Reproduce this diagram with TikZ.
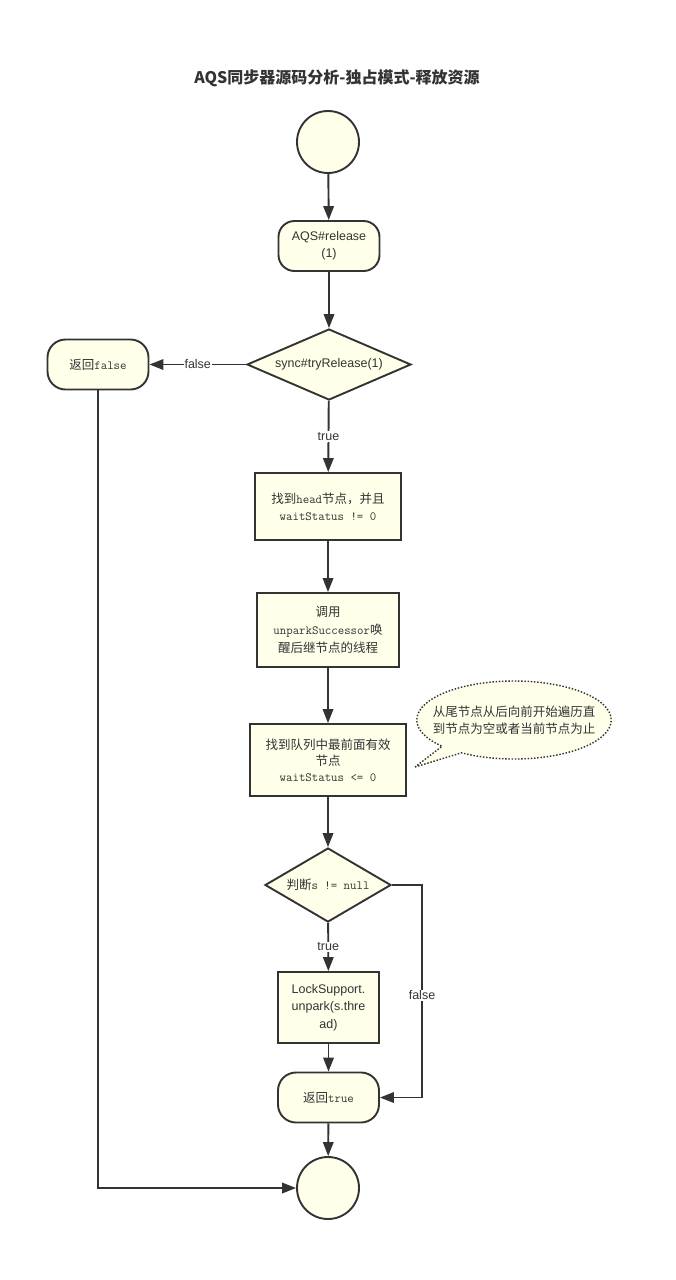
\documentclass[tikz,border=0pt]{standalone}
\usepackage{fontspec}
\setsansfont{Liberation Sans}
\newfontfamily\zh{Noto Sans CJK SC}
\usetikzlibrary{shapes.geometric,shapes.callouts,arrows.meta}
\definecolor{boxfill}{HTML}{FFFFEA}
\definecolor{ink}{HTML}{333333}
\begin{document}
\begin{tikzpicture}[
        x=1pt, y=-1pt,
        every node/.style={text=ink, font=\sffamily\fontsize{12.5}{17}\selectfont},
        base/.style={draw=ink, fill=boxfill, line width=1.9pt, align=center, inner sep=2pt},
        terminal/.style={base, circle, minimum size=62pt},
        stadium/.style={base, rectangle, rounded corners=16pt, minimum width=101pt, minimum height=50pt},
        process/.style={base, rectangle},
        decision/.style={base, diamond, inner sep=0pt},
        note/.style={ellipse callout, draw=ink, fill=boxfill, line width=1.4pt, dash pattern=on 1.5pt off 1.7pt,
            minimum height=78pt, inner xsep=-12.5pt, inner ysep=0pt, align=center,
            font=\zh\fontsize{12.5}{17}\selectfont},
        flow/.style={draw=ink, line width=1.9pt, -{Triangle[length=14pt,width=10.5pt]}},
        tag/.style={fill=white, inner sep=1pt},
    ]
    \useasboundingbox[fill=white] (0,0) rectangle (676,1280);
    \node[font=\zh\bfseries\fontsize{16}{19}\selectfont](title) at (337,78){AQS同步器源码分析-独占模式-释放资源};
    \node[terminal](start) at (328,142){};
    \node[stadium](release) at (329,246){AQS\#release\\(1)};
    \node[decision, aspect=2.3, minimum width=164pt, minimum height=71pt](check) at (329,364.5){sync\#tryRelease(1)};
    \node[stadium, rounded corners=18pt, font=\zh\fontsize{12.5}{17}\selectfont](retfalse) at (98,364.5){返回\texttt{false}};
    \node[process, minimum width=146pt, minimum height=67pt, font=\zh\fontsize{12.5}{17}\selectfont](findhead) at (328,506.5){找到\texttt{head}节点，并且\\\texttt{waitStatus != 0}};
    \node[process, minimum width=142pt, minimum height=74pt, font=\zh\fontsize{12.5}{18}\selectfont](unpark) at (328,630){调用\\\texttt{unparkSuccessor}唤\\醒后继节点的线程};
    \node[process, minimum width=156pt, minimum height=72pt, font=\zh\fontsize{12.5}{16}\selectfont](findvalid) at (328,760){找到队列中最前面有效\\节点\\\texttt{waitStatus <= 0}};
    \node[note, callout absolute pointer={(415,767)}](hint) at (514,720){从尾节点从后向前开始遍历直\\到节点为空或者当前节点为止};
    \node[decision, aspect=1.7, minimum width=126pt, minimum height=74pt, font=\zh\fontsize{12.5}{17}\selectfont](isnull) at (328,885){判断\texttt{s != null}};
    \node[process, minimum width=101pt, minimum height=71pt, font=\sffamily\fontsize{12.5}{17.5}\selectfont](locksupport) at (328.5,1007.5){LockSupport.\\unpark(s.thre\\ad)};
    \node[stadium, rounded corners=18pt, font=\zh\fontsize{12.5}{17}\selectfont](rettrue) at (328.5,1097.5){返回\texttt{true}};
    \node[terminal](finish) at (328,1188){};
    \coordinate (fturn) at (422,1097.5);

    \draw[flow](start) -- (release);
    \draw[flow](release) -- (check);
    \draw[flow](check) -- node[tag]{false} (retfalse);
    \draw[flow](check) -- node[tag]{true} (findhead);
    \draw[flow](findhead) -- (unpark);
    \draw[flow](unpark) -- (findvalid);
    \draw[flow](findvalid) -- (isnull);
    \draw[flow](isnull) -- node[tag]{true} (locksupport);
    \draw[flow](isnull.east) -| node[tag, pos=0.76]{false} (fturn) -- (rettrue.east);
    \draw[flow](locksupport) -- (rettrue);
    \draw[flow](rettrue) -- (finish);
    \draw[flow](retfalse) |- (finish);
\end{tikzpicture}
\end{document}
